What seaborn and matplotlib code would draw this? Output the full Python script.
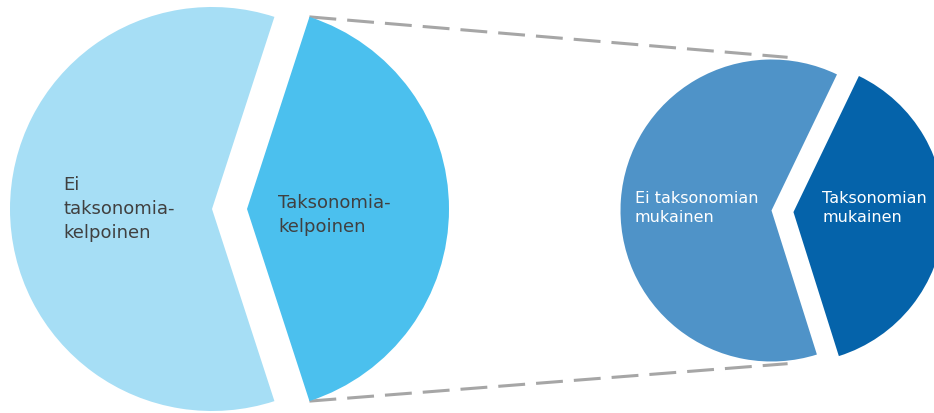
import numpy as np
import matplotlib
matplotlib.use("Agg")
import matplotlib.pyplot as plt
import seaborn as sns

# data
outer_labels = ["Taksonomia-\nkelpoinen", "Ei\ntaksonomia-\nkelpoinen"]
outer_values = [40, 60]
inner_labels = ["Taksonomian\nmukainen", "Ei taksonomian\nmukainen"]
inner_values = [38, 62]

outer_colors = ["#4BC0EE", "#A6DEF5"]
inner_colors = ["#0563AA", "#4F93C8"]

sns.set_theme(style="white")
plt.rcParams['font.family'] = ['DejaVu Sans']

fig = plt.figure(figsize=(9.34, 4.14), dpi=100)
ax = fig.add_axes([0, 0, 1, 1])

# left pie (pixel-like data units, y up)
w1, _ = ax.pie(outer_values, colors=outer_colors, startangle=-72,
               center=(212, 204), radius=202, explode=[35, 0],
               wedgeprops=dict(linewidth=0))
# right pie
w2, _ = ax.pie(inner_values, colors=inner_colors, startangle=-72.5,
               center=(771.5, 202.5), radius=151, explode=[22, 0],
               wedgeprops=dict(linewidth=0))

ax.set_xlim(0, 934)
ax.set_ylim(0, 414)
ax.set_aspect('equal')
ax.axis('off')

# connector lines from the exploded wedge to the second pie
wl = w1[0]
cx, cy = wl.center
rc = w2[1]
for th_l, th_r in [(wl.theta2, 84), (wl.theta1, -84)]:
    x0 = cx + wl.r * np.cos(np.radians(th_l))
    y0 = cy + wl.r * np.sin(np.radians(th_l))
    x1 = rc.center[0] + rc.r * 1.02 * np.cos(np.radians(th_r))
    y1 = rc.center[1] + rc.r * 1.02 * np.sin(np.radians(th_r))
    ax.plot([x0, x1], [y0, y1], color="#A6A6A6", lw=2.2,
            linestyle=(0, (8.8, 3.6)), solid_capstyle='butt', zorder=0)

# labels
ax.text(63, 205, outer_labels[1], ha='left', va='center', fontsize=13,
        color="#404040", linespacing=1.45)
ax.text(278, 199, outer_labels[0], ha='left', va='center', fontsize=13,
        color="#404040", linespacing=1.45)
ax.text(635, 206, inner_labels[1], ha='left', va='center', fontsize=11.5,
        color="white", linespacing=1.35)
ax.text(822, 206, inner_labels[0], ha='left', va='center', fontsize=11.5,
        color="white", linespacing=1.35)

fig.savefig("out.png", dpi=100)
